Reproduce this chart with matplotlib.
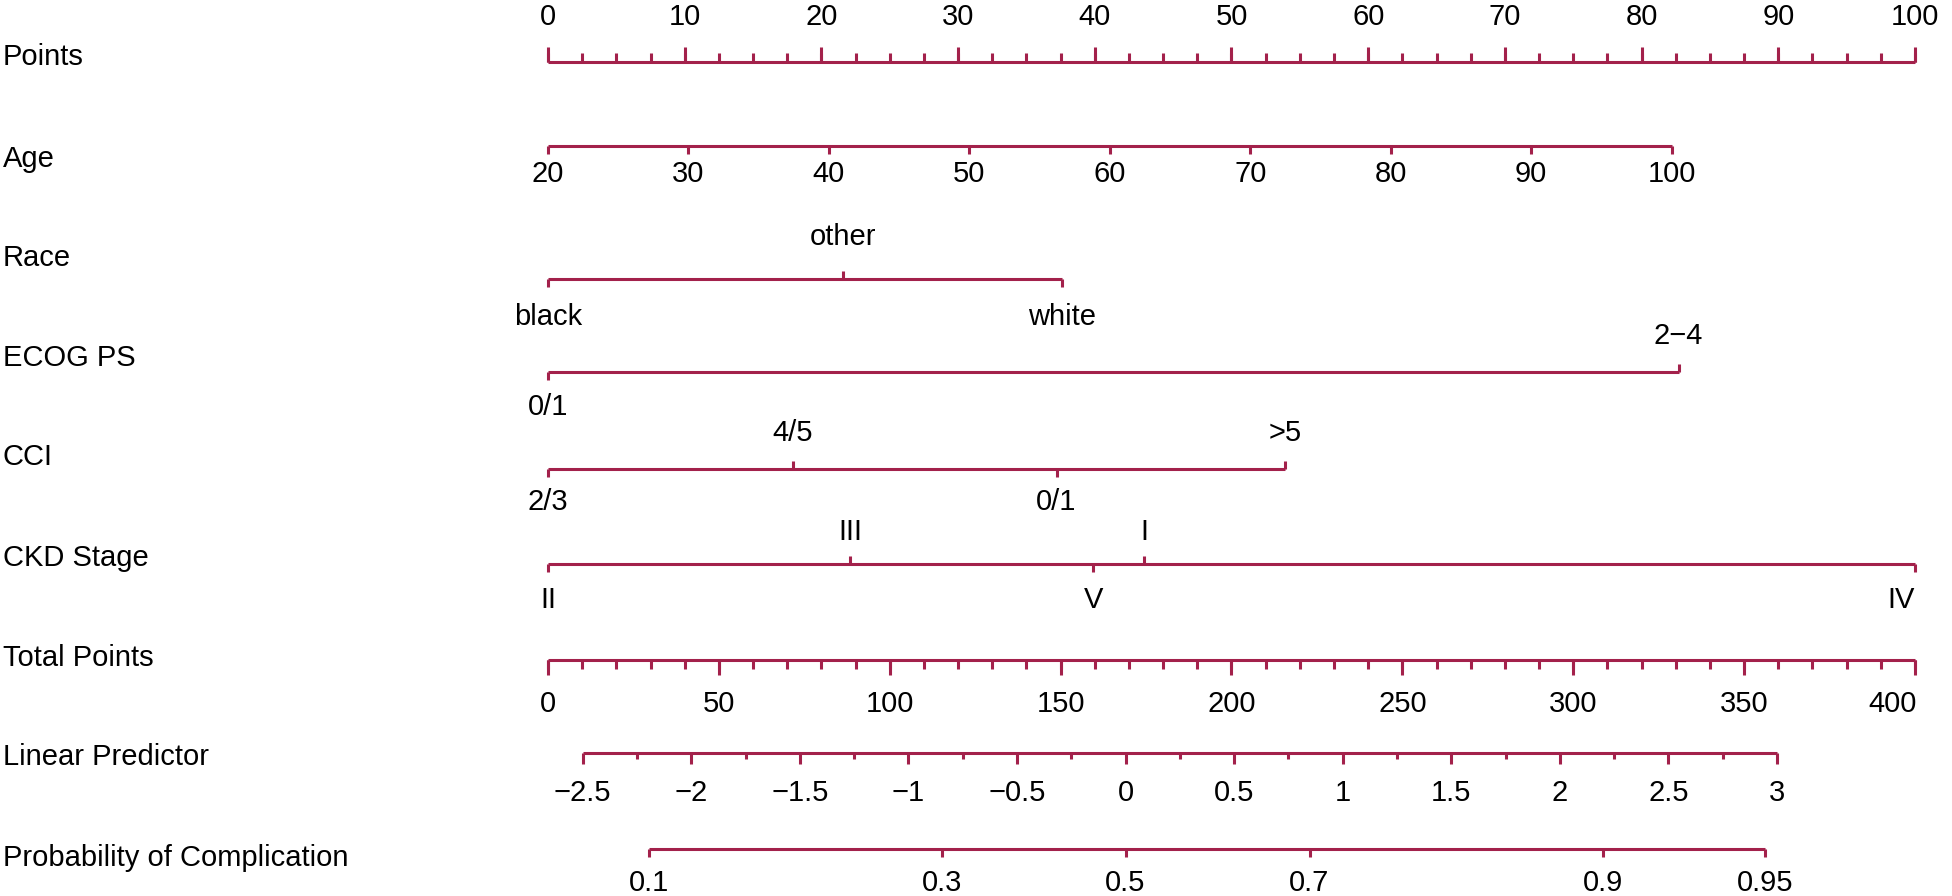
import numpy as np
import matplotlib
matplotlib.use("Agg")
import matplotlib.pyplot as plt

plt.rcParams['font.family'] = ['Liberation Sans', 'DejaVu Sans']

# ---- data (points are on the 0-100 "Points" scale) ----
points_major = np.arange(0, 101, 10)
points_minor = np.arange(0, 100.1, 2.5)

age_vals = np.arange(20, 101, 10)
age_pts_max = 82.2            # points given to age 100 (age 20 = 0)

race_levels = ['black', 'other', 'white']
race_pts = [0, 21.6, 37.6]
race_side = ['below', 'above', 'below']

ecog_levels = ['0/1', '2\u22124']
ecog_pts = [0, 82.7]
ecog_side = ['below', 'above']

cci_levels = ['2/3', '4/5', '0/1', '>5']
cci_pts = [0, 17.9, 37.2, 53.9]
cci_side = ['below', 'above', 'below', 'above']

ckd_levels = ['II', 'III', 'V', 'I', 'IV']
ckd_pts = [0, 22.1, 39.9, 43.6, 100]
ckd_side = ['below', 'above', 'below', 'above', 'below']

total_major = np.arange(0, 401, 50)
total_minor = np.arange(0, 401, 10)

lp_major = np.arange(-2.5, 3.01, 0.5)
lp_minor = np.arange(-2.25, 3.0, 0.5)
lp_intercept = 169.0          # total points at linear predictor 0
lp_slope = 63.53              # total points per unit of linear predictor

prob_ticks = [0.1, 0.3, 0.5, 0.7, 0.9, 0.95]

row_names = ['Points', 'Age', 'Race', 'ECOG PS', 'CCI', 'CKD Stage',
             'Total Points', 'Linear Predictor', 'Probability of Complication']

# ---- layout (y in pixels from the top) ----
row_line_y = [62, 146, 279, 372, 469, 564, 660, 753, 849]
row_label_y = [57, 159, 258, 358, 457, 558, 658, 757, 858]

col = '#A3214B'
lw = 2.2
tick_fs = 21
label_fs = 21

fig = plt.figure(figsize=(19.52, 8.96), dpi=100)
ax = fig.add_axes([0, 0, 1, 1])
px_per_pt = (1915 - 548) / 100.0
ax.set_xlim(-548 / px_per_pt, (1952 - 548) / px_per_pt)
ax.set_ylim(896, 0)
ax.axis('off')


def total_to_pts(t):
    return np.asarray(t, dtype=float) / 4.0


def lp_to_pts(lp):
    return total_to_pts(lp_intercept + lp_slope * np.asarray(lp, dtype=float))


def hline(y, x0, x1):
    ax.plot([x0, x1], [y, y], color=col, lw=lw, solid_capstyle='butt')


def ticks(y, xs, length, up):
    d = -length if up else length
    for x in np.atleast_1d(xs):
        ax.plot([x, x], [y, y + d], color=col, lw=lw, solid_capstyle='butt')


def cat_row(y, pts, levels, sides, off_above=38, off_below=34, ha_last='center'):
    hline(y, min(pts), max(pts))
    for i, (p, lev, s) in enumerate(zip(pts, levels, sides)):
        up = s == 'above'
        ticks(y, p, 8, up)
        ty = y - off_above if up else y + off_below
        ha = ha_last if i == len(pts) - 1 else 'center'
        ax.text(p, ty, lev, ha=ha, va='center', fontsize=tick_fs)


# row labels
for name, yl in zip(row_names, row_label_y):
    ax.text(-548 / px_per_pt + 3 / px_per_pt, yl, name, ha='left', va='center',
            fontsize=label_fs)

# Points
y = row_line_y[0]
hline(y, 0, 100)
ticks(y, points_minor, 9, True)
ticks(y, points_major, 15, True)
for v in points_major:
    ax.text(v, 17, str(v), ha='center', va='center', fontsize=tick_fs)

# Age
y = row_line_y[1]
age_pts = (age_vals - 20) / 80.0 * age_pts_max
hline(y, age_pts[0], age_pts[-1])
ticks(y, age_pts, 8, False)
for v, p in zip(age_vals, age_pts):
    ax.text(p, y + 28, str(v), ha='center', va='center', fontsize=tick_fs)

# categorical rows
cat_row(row_line_y[2], race_pts, race_levels, race_side, off_above=42, off_below=38)
cat_row(row_line_y[3], ecog_pts, ecog_levels, ecog_side, off_above=36, off_below=35)
cat_row(row_line_y[4], cci_pts, cci_levels, cci_side, off_above=36, off_below=33)
cat_row(row_line_y[5], ckd_pts, ckd_levels, ckd_side, off_above=32, off_below=36,
        ha_last='right')

# Total points
y = row_line_y[6]
hline(y, 0, 100)
ticks(y, total_to_pts(total_minor), 9, False)
ticks(y, total_to_pts(total_major), 15, False)
for v in total_major:
    ha = 'right' if v == total_major[-1] else 'center'
    xx = total_to_pts(v) + (2 / px_per_pt if ha == 'right' else 0)
    ax.text(xx, y + 44, str(v), ha=ha, va='center', fontsize=tick_fs)

# Linear predictor
y = row_line_y[7]
hline(y, lp_to_pts(lp_major[0]), lp_to_pts(lp_major[-1]))
ticks(y, lp_to_pts(lp_minor), 6, False)
ticks(y, lp_to_pts(lp_major), 11, False)
for v in lp_major:
    s = ('%g' % v).replace('-', '\u2212')
    ax.text(lp_to_pts(v), y + 40, s, ha='center', va='center', fontsize=tick_fs)

# Probability
y = row_line_y[8]
logit = np.log(np.array(prob_ticks) / (1 - np.array(prob_ticks)))
prob_pts = lp_to_pts(logit)
hline(y, prob_pts[0], prob_pts[-1])
ticks(y, prob_pts, 8, False)
for v, p in zip(prob_ticks, prob_pts):
    ax.text(p, y + 34, '%g' % v, ha='center', va='center', fontsize=tick_fs)

fig.savefig('out.png', dpi=100)
